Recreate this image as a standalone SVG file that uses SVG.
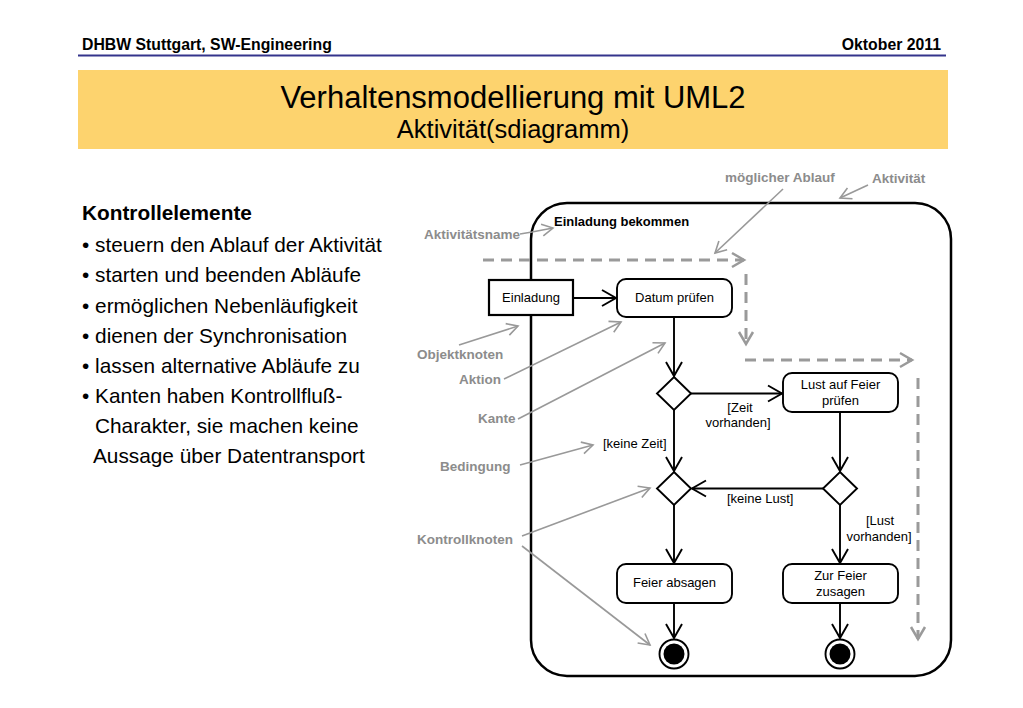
<svg xmlns="http://www.w3.org/2000/svg" width="1023" height="708" viewBox="0 0 1023 708">
<defs>
<style>
text{font-family:"Liberation Sans",Arial,sans-serif}
.hdr{font-size:15.8px;font-weight:bold;fill:#000}
.body{font-size:20.8px;fill:#000}
.ann{font-size:13.5px;font-weight:bold;fill:#8c8c8c}
.lbl{font-size:13px;fill:#000}
.node{fill:#fff;stroke:#000;stroke-width:1.9}
.edge{fill:none;stroke:#000;stroke-width:1.9}
.gline{fill:none;stroke:#999;stroke-width:1.6}
.dash{fill:none;stroke:#9a9a9a;stroke-width:3;stroke-dasharray:11 7}
</style>
<marker id="ab" markerUnits="userSpaceOnUse" markerWidth="16" markerHeight="18" refX="14" refY="8" orient="auto" overflow="visible">
<path d="M0,0 L14,8 L0,16" fill="none" stroke="#000" stroke-width="1.9"/>
</marker>
<marker id="ag" markerUnits="userSpaceOnUse" markerWidth="12" markerHeight="12" refX="11" refY="6" orient="auto" overflow="visible">
<path d="M0,0 L11,6 L0,12" fill="none" stroke="#999" stroke-width="1.6"/>
</marker>
<marker id="ad" markerUnits="userSpaceOnUse" markerWidth="14" markerHeight="16" refX="12" refY="7" orient="auto" overflow="visible">
<path d="M0,0 L12,7 L0,14" fill="none" stroke="#9a9a9a" stroke-width="2.5" stroke-dasharray="none"/>
</marker>
</defs>
<rect width="1023" height="708" fill="#fff"/>
<g id="header">
<text class="hdr" x="82" y="50">DHBW Stuttgart, SW-Engineering</text>
<text class="hdr" x="941" y="50" text-anchor="end">Oktober 2011</text>
<line x1="78" y1="55.5" x2="946" y2="55.5" stroke="#34348c" stroke-width="2"/>
</g>
<g id="banner">
<rect x="78" y="70" width="870" height="79" fill="#fdd36e"/>
<text x="513" y="108" text-anchor="middle" font-size="31" fill="#000">Verhaltensmodellierung mit UML2</text>
<text x="513" y="138" text-anchor="middle" font-size="25.5" fill="#000">Aktivität(sdiagramm)</text>
</g>
<g id="bullets">
<text class="body" x="82" y="220" font-weight="bold">Kontrollelemente</text>
<text class="body" x="82" y="252">• steuern den Ablauf der Aktivität</text>
<text class="body" x="82" y="282">• starten und beenden Abläufe</text>
<text class="body" x="82" y="313">• ermöglichen Nebenläufigkeit</text>
<text class="body" x="82" y="343">• dienen der Synchronisation</text>
<text class="body" x="82" y="373">• lassen alternative Abläufe zu</text>
<text class="body" x="82" y="403">• Kanten haben Kontrollfluß-</text>
<text class="body" x="95" y="433">Charakter, sie machen keine</text>
<text class="body" x="93" y="463">Aussage über Datentransport</text>
</g>
<g id="activity">
<rect x="531" y="203" width="420" height="473" rx="36" ry="36" fill="none" stroke="#000" stroke-width="2.5"/>
<text x="554" y="226" font-size="13" font-weight="bold" fill="#000">Einladung bekommen</text>
</g>
<g id="flow">
<path class="dash" d="M483,260 H744" marker-end="url(#ad)"/>
<path class="dash" d="M746,274 V344" marker-end="url(#ad)"/>
<path class="dash" d="M745,360 H912" marker-end="url(#ad)"/>
<path class="dash" d="M918,378 V639" marker-end="url(#ad)"/>
</g>
<g id="connectors">
<path class="edge" d="M573,298 H616" marker-end="url(#ab)"/>
<path class="edge" d="M674,317 V376" marker-end="url(#ab)"/>
<path class="edge" d="M691,393.5 H782" marker-end="url(#ab)"/>
<path class="edge" d="M674,410 V471" marker-end="url(#ab)"/>
<path class="edge" d="M840,412 V471" marker-end="url(#ab)"/>
<path class="edge" d="M823,488.5 H692" marker-end="url(#ab)"/>
<path class="edge" d="M674,505 V563" marker-end="url(#ab)"/>
<path class="edge" d="M840,505 V563" marker-end="url(#ab)"/>
<path class="edge" d="M674,603 V638" marker-end="url(#ab)"/>
<path class="edge" d="M840,603 V638" marker-end="url(#ab)"/>
<text class="lbl" x="740" y="412" text-anchor="middle">[Zeit</text>
<text class="lbl" x="738" y="427" text-anchor="middle">vorhanden]</text>
<text class="lbl" x="603" y="448">[keine Zeit]</text>
<text class="lbl" x="727" y="503">[keine Lust]</text>
<text class="lbl" x="880" y="525" text-anchor="middle">[Lust</text>
<text class="lbl" x="879" y="541" text-anchor="middle">vorhanden]</text>
</g>
<g id="einladung">
<rect x="489" y="280" width="84" height="35" fill="#fff" stroke="#000" stroke-width="2.2"/>
<text class="lbl" x="531" y="302" text-anchor="middle">Einladung</text>
</g>
<g id="datum">
<rect class="node" x="617" y="279" width="115" height="38" rx="9"/>
<text class="lbl" x="674.5" y="302" text-anchor="middle">Datum prüfen</text>
</g>
<g id="lust">
<rect class="node" x="783" y="373" width="115" height="39" rx="9"/>
<text class="lbl" x="840.5" y="389" text-anchor="middle">Lust auf Feier</text>
<text class="lbl" x="840.5" y="405" text-anchor="middle">prüfen</text>
</g>
<g id="d1"><polygon class="node" points="674,377 691,393.5 674,410 657,393.5"/></g>
<g id="d2"><polygon class="node" points="674,472 691,488.5 674,505 657,488.5"/></g>
<g id="d3"><polygon class="node" points="840,472 857,488.5 840,505 823,488.5"/></g>
<g id="absagen">
<rect class="node" x="617" y="564" width="115" height="39" rx="9"/>
<text class="lbl" x="674.5" y="587" text-anchor="middle">Feier absagen</text>
</g>
<g id="zusagen">
<rect class="node" x="783" y="564" width="115" height="39" rx="9"/>
<text class="lbl" x="840.5" y="580" text-anchor="middle">Zur Feier</text>
<text class="lbl" x="840.5" y="596" text-anchor="middle">zusagen</text>
</g>
<g id="final1">
<circle cx="674" cy="654" r="14.5" fill="#fff" stroke="#000" stroke-width="1.9"/>
<circle cx="674" cy="654" r="10.5" fill="#000"/>
</g>
<g id="final2">
<circle cx="840" cy="654" r="14.5" fill="#fff" stroke="#000" stroke-width="1.9"/>
<circle cx="840" cy="654" r="10.5" fill="#000"/>
</g>
<g id="annotations">
<text class="ann" x="725" y="182">möglicher Ablauf</text>
<text class="ann" x="872" y="183">Aktivität</text>
<text class="ann" x="424" y="239">Aktivitätsname</text>
<text class="ann" x="417" y="359">Objektknoten</text>
<text class="ann" x="459" y="384">Aktion</text>
<text class="ann" x="478" y="423">Kante</text>
<text class="ann" x="440" y="471">Bedingung</text>
<text class="ann" x="417" y="544">Kontrollknoten</text>
<path class="gline" d="M783,189 L715,253" marker-end="url(#ag)"/>
<path class="gline" d="M868,185 L840,198" marker-end="url(#ag)"/>
<path class="gline" d="M520,234 L532,232 L553,228" marker-end="url(#ag)"/>
<path class="gline" d="M459,345 L518,326" marker-end="url(#ag)"/>
<path class="gline" d="M504,379 L621,322" marker-end="url(#ag)"/>
<path class="gline" d="M518,419 L665,343" marker-end="url(#ag)"/>
<path class="gline" d="M520,465 L593,445" marker-end="url(#ag)"/>
<path class="gline" d="M522,536 L650,488" marker-end="url(#ag)"/>
<path class="gline" d="M522,546 L650,645" marker-end="url(#ag)"/>
</g>
</svg>
